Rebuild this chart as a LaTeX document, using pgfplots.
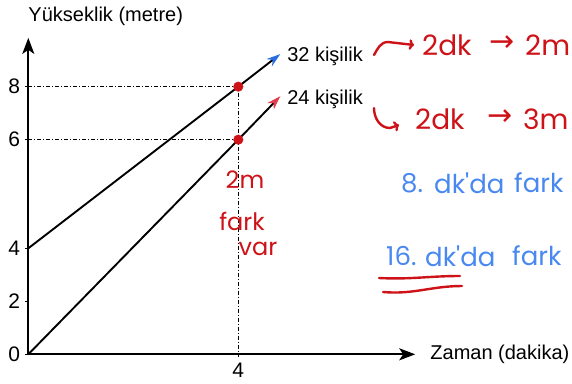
\documentclass[border=0pt]{standalone}
\usepackage{pgfplots}
\pgfplotsset{compat=1.18}
\usepackage{fontspec}
\setmainfont{Liberation Sans}
\newfontfamily\symfont{DejaVu Sans}
\newfontfamily\handfont{Poppins}
\usetikzlibrary{arrows.meta}

\definecolor{penred}{RGB}{205,18,24}
\definecolor{penblue}{RGB}{72,136,240}
\definecolor{tipblue}{RGB}{40,110,225}
\definecolor{tipred}{RGB}{225,60,75}

\begin{document}
\begin{tikzpicture}[x=1bp,y=-1bp]
\useasboundingbox (0,0) rectangle (572,383);
\clip (0,0) rectangle (572,383);
\begin{axis}[
  anchor=origin, at={(28.3bp,-354.3bp)},
  x=52.5bp, y=26.5bp,
  xmin=0, xmax=7.37, ymin=0, ymax=9.84,
  % the printed y axis is not to scale: the step from 4 to 6 is drawn twice as long
  y coord trafo/.code={\pgfmathparse{#1<=4 ? #1 : (#1<=6 ? 2.05*#1-4.2 : #1+2.1)}},
  y coord inv trafo/.code={\pgfmathparse{#1<=4 ? #1 : (#1<=8.1 ? (#1+4.2)/2.05 : #1-2.1)}},
  axis lines=left,
  axis line style={line width=1.9bp, -{Stealth[length=16bp,width=12bp,inset=4bp]}},
  xtick={4}, xticklabels={4},
  ytick={0,2,4,6,8}, yticklabels={0,2,4,6,8},
  tick style={black, line width=1.5bp},
  major tick length=3bp,
  tick align=outside,
  tick label style={font=\fontsize{21bp}{21bp}\selectfont},
  xticklabel style={inner sep=0pt, yshift=-6bp},
  yticklabel style={inner sep=0pt, xshift=-5bp},
  xlabel={Zaman (dakika)},
  ylabel={Yükseklik (metre)},
  every axis x label/.style={at={(axis description cs:1,0)}, anchor=west, inner sep=0pt, xshift=15bp,
    font=\fontsize{20bp}{24bp}\selectfont},
  every axis y label/.style={at={(axis description cs:0,1)}, anchor=base west, inner sep=0pt, yshift=16bp,
    font=\fontsize{20bp}{24bp}\selectfont},
  clip=false,
]
% guide lines
\addplot[black, line width=1bp, dash pattern=on 4bp off 2bp on 1bp off 2bp] coordinates {(0,8) (4,8) (4,0)};
\addplot[black, line width=1bp, dash pattern=on 4bp off 2bp on 1bp off 2bp] coordinates {(0,6) (4,6)};
% 32 kisilik
\addplot[black, line width=1.9bp, -{Stealth[length=14bp,width=9bp,color=tipblue]}]
  coordinates {(0,4) (4,8) (4.8,9.23)}
  node[pos=1, anchor=west, inner sep=0pt, xshift=6bp, yshift=-2bp, font=\fontsize{20bp}{24bp}\selectfont] {32 kişilik};
% 24 kisilik
\addplot[black, line width=1.9bp, -{Stealth[length=14bp,width=9bp,color=tipred]}]
  coordinates {(0,0) (4,6) (4.8,7.64)}
  node[pos=1, anchor=west, inner sep=0pt, xshift=6bp, yshift=-3bp, font=\fontsize{20bp}{24bp}\selectfont] {24 kişilik};
% red dots
\addplot[only marks, mark=*, mark size=4.8bp, penred] coordinates {(4,8) (4,6)};
\end{axis}

% handwritten notes
\begin{scope}[penred, font=\handfont\fontsize{24bp}{26bp}\selectfont]
\node at (245,180) {2m};
\node at (242,221) {fark};
\node at (258,249) {var};
\end{scope}
\begin{scope}[penred, font=\handfont\fontsize{28bp}{30bp}\selectfont, every node/.style={inner sep=0pt}]
\node[anchor=west] at (422,45) {2dk};
\node at (502,44) {\symfont\fontsize{30bp}{30bp}\selectfont →};
\node[anchor=west] at (525,45) {2m};
\node[anchor=west] at (415,119) {2dk};
\node at (500,118) {\symfont\fontsize{30bp}{30bp}\selectfont →};
\node[anchor=west] at (523,119) {3m};
\draw[line width=2.4bp, line cap=round, -{To[length=5bp]}] (374,55) to[out=60,in=180] (388,42) -- (414,45);
\draw[line width=2.4bp, line cap=round, -{To[length=5bp]}] (374,108) to[out=-90,in=180] (390,128) -- (399,125);
\draw[line width=2.4bp, line cap=round] (379,278) to[out=-3,in=180] (460,276);
\draw[line width=2.4bp, line cap=round] (383,292) to[out=-5,in=180] (462,286);
\end{scope}
\begin{scope}[penblue, font=\handfont\fontsize{26bp}{28bp}\selectfont, every node/.style={inner sep=0pt}]
\node[anchor=west] at (401,183) {8.};
\node[anchor=west] at (434,183) {dk'da};
\node[anchor=west] at (514,183) {fark};
\node[anchor=west] at (386,256) {16.};
\node[anchor=west] at (425,256) {dk'da};
\node[anchor=west] at (512,256) {fark};
\end{scope}
\end{tikzpicture}
\end{document}
